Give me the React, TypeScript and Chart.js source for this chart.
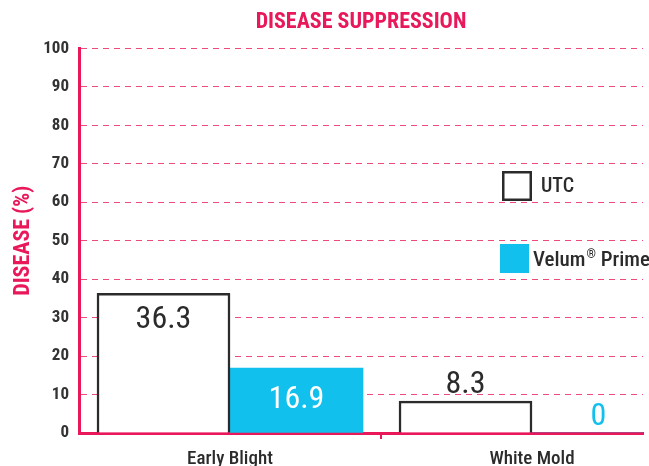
import React, { useEffect, useRef } from 'react';
import { Chart, registerables } from 'chart.js';

Chart.register(...registerables);

// ---- data ----
const categories = ['Early Blight', 'White Mold'];
const seriesNames = ['UTC', 'Velum® Prime'];
const utcValues = [36.3, 8.3];
const velumValues = [16.9, 0];
const yTickValues = [0, 10, 20, 30, 40, 50, 60, 70, 80, 90, 100];
const chartTitle = 'DISEASE SUPPRESSION';
const yAxisTitle = 'DISEASE (%)';

// ---- styles ----
const PINK = '#e8185a';
const GRID = '#ee4a7c';
const DARK = '#2b2b2b';
const TICK = '#333333';
const BLUE = '#12c0ee';
const FONT = '"Liberation Sans Narrow", "Arial Narrow", "Roboto Condensed", "DejaVu Sans Condensed", "Liberation Sans", sans-serif';

const valueLabels = {
  id: 'valueLabels',
  afterDatasetsDraw(chart: any) {
    const ctx = chart.ctx;
    chart.data.datasets.forEach((ds: any, di: number) => {
      const meta = chart.getDatasetMeta(di);
      meta.data.forEach((bar: any, i: number) => {
        const v = ds.data[i].y;
        const { x, y, base } = bar.getProps(['x', 'y', 'base'], true);
        const h = base - y;
        const filled = ds.backgroundColor !== '#ffffff';
        let cy: number;
        let color: string;
        if (h > 100) {
          cy = y + 27;
          color = filled ? '#ffffff' : DARK;
        } else if (h > 50) {
          cy = (y + base) / 2;
          color = filled ? '#ffffff' : DARK;
        } else {
          cy = y - 16;
          color = ds.borderWidth > 0 ? ds.borderColor : ds.backgroundColor;
        }
        ctx.save();
        ctx.font = `400 32px ${FONT}`;
        ctx.fillStyle = color;
        ctx.textAlign = 'center';
        ctx.textBaseline = 'middle';
        ctx.fillText(String(v), x, cy);
        ctx.restore();
      });
    });
  },
};

const customLegend = {
  id: 'customLegend',
  afterDraw(chart: any) {
    const ctx = chart.ctx;
    const ds = chart.data.datasets;
    ctx.save();
    // UTC
    ctx.strokeStyle = ds[0].borderColor;
    ctx.lineWidth = 2.5;
    ctx.fillStyle = '#ffffff';
    ctx.fillRect(503, 172, 28, 28);
    ctx.strokeRect(503.25, 172.25, 27.5, 27.5);
    ctx.fillStyle = DARK;
    ctx.textBaseline = 'middle';
    ctx.textAlign = 'left';
    ctx.font = `500 20px ${FONT}`;
    ctx.fillText(ds[0].label, 541, 187);
    // Velum
    ctx.fillStyle = ds[1].backgroundColor;
    ctx.fillRect(500, 244, 29, 29);
    ctx.fillStyle = DARK;
    const parts = String(ds[1].label).split('®');
    let x = 533;
    ctx.font = `500 21px ${FONT}`;
    ctx.fillText(parts[0], x, 261);
    x += ctx.measureText(parts[0]).width + 1;
    ctx.font = `500 12px ${FONT}`;
    ctx.fillText('®', x, 255);
    x += ctx.measureText('®').width;
    ctx.font = `500 21px ${FONT}`;
    ctx.fillText(parts[1] || '', x, 261);
    ctx.restore();
  },
};

export default function App() {
  const ref = useRef<HTMLCanvasElement | null>(null);

  useEffect(() => {
    document.body.style.margin = '0';
    const canvas = ref.current;
    if (!canvas) return;
    const chart = new Chart(canvas, {
      type: 'bar',
      data: {
        datasets: [
          {
            label: seriesNames[0],
            data: utcValues.map((v, i) => ({ x: i, y: v })),
            backgroundColor: '#ffffff',
            borderColor: DARK,
            borderWidth: 2.5,
            borderSkipped: 'bottom',
            barThickness: 133,
          },
          {
            label: seriesNames[1],
            data: velumValues.map((v, i) => ({ x: i, y: v })),
            backgroundColor: BLUE,
            borderColor: BLUE,
            borderWidth: 0,
            barThickness: 133,
          },
        ],
      },
      options: {
        animation: false,
        responsive: false,
        devicePixelRatio: 1,
        layout: { padding: { left: 0, right: 6, top: 0, bottom: 0 } },
        plugins: {
          legend: { display: false },
          tooltip: { enabled: false },
          title: {
            display: true,
            text: chartTitle,
            color: PINK,
            fullSize: false,
            font: { family: FONT, size: 22, weight: 'bold', lineHeight: 1.2 },
            padding: { top: 9, bottom: 13 },
          },
        },
        scales: {
          x: {
            type: 'linear',
            bounds: 'data',
            offset: false,
            min: -0.5,
            max: 1.3675,
            afterBuildTicks: (s: any) => {
              s.ticks = [0, 0.5, 1].map((v) => ({ value: v }));
            },
            afterFit: (s: any) => {
              s.height = 33;
            },
            grid: {
              offset: false,
              drawOnChartArea: false,
              drawTicks: true,
              tickLength: 6,
              lineWidth: 2,
              color: (c: any) => (c.tick && c.tick.value === 0.5 ? PINK : 'rgba(0,0,0,0)'),
            },
            border: { display: true, color: PINK, width: 3 },
            ticks: {
              autoSkip: false,
              maxRotation: 0,
              minRotation: 0,
              padding: 9,
              color: DARK,
              font: { family: FONT, size: 19, weight: 500 },
              callback: (v: any) => (Number.isInteger(v) ? categories[v] : ''),
            },
          },
          y: {
            type: 'linear',
            min: 0,
            max: 100,
            afterBuildTicks: (s: any) => {
              s.ticks = yTickValues.map((v) => ({ value: v }));
            },
            afterFit: (s: any) => {
              s.width = 79;
            },
            grid: {
              drawTicks: false,
              lineWidth: 1,
              color: (c: any) => (c.tick && c.tick.value === 0 ? 'rgba(0,0,0,0)' : GRID),
            },
            border: { display: true, color: PINK, width: 3, dash: [6, 5] },
            ticks: {
              padding: 10,
              color: TICK,
              font: { family: FONT, size: 17, weight: 'bold' },
            },
            title: {
              display: true,
              text: yAxisTitle,
              color: PINK,
              font: { family: FONT, size: 22, weight: 'bold' },
              padding: { top: 10, bottom: 0 },
            },
          },
        },
      },
      plugins: [valueLabels, customLegend],
    } as any);
    return () => chart.destroy();
  }, []);

  return (
    <div style={{ width: 649, height: 466 }}>
      <canvas ref={ref} width={649} height={466} style={{ display: 'block' }} />
    </div>
  );
}
